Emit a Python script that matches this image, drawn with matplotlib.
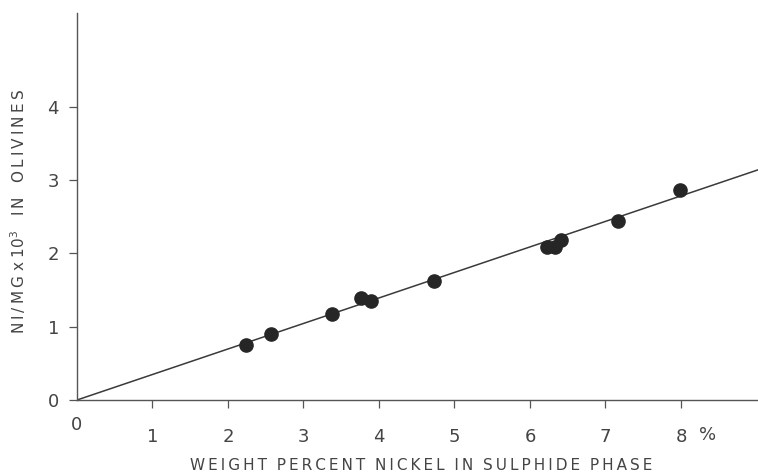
import matplotlib
matplotlib.use("Agg")
import matplotlib.pyplot as plt

# nickel in sulphide (wt %) vs Ni/Mg x 10^3 in olivine
ni_sulphide = [2.24, 2.57, 3.38, 3.76, 3.89, 4.73, 6.22, 6.33, 6.41, 7.17, 7.99]
ni_mg_olivine = [0.75, 0.90, 1.17, 1.39, 1.35, 1.63, 2.09, 2.09, 2.18, 2.44, 2.86]

# fitted line through origin
fit_x = [0, 9.02]
fit_y = [0, 3.14]

x_ticks = [1, 2, 3, 4, 5, 6, 7, 8]
y_ticks = [0, 1, 2, 3, 4]

x_title = ["WEIGHT", "PERCENT", "NICKEL", "IN", "SULPHIDE", "PHASE"]

ink = "#3a3a3a"
plt.rcParams['font.family'] = ['DejaVu Sans']


def spaced(words, gap="  "):
    # wide lettering like the stencilled original
    return gap.join("\u2009".join(w) for w in words)


fig = plt.figure(figsize=(7.58, 4.76), dpi=100)
ax = fig.add_axes([77/758, 76/476, 681/758, 387/476])

ax.plot(fit_x, fit_y, color=ink, lw=1.1, zorder=2)
ax.plot(ni_sulphide, ni_mg_olivine, 'o', color="#262626", ms=9.5, zorder=3)

ax.set_xlim(0, 9.02)
ax.set_ylim(0, 5.28)
ax.spines['top'].set_visible(False)
ax.spines['right'].set_visible(False)
for s in ['left', 'bottom']:
    ax.spines[s].set_color("#555555")
    ax.spines[s].set_linewidth(1.0)

ax.set_xticks(x_ticks)
ax.set_yticks(y_ticks)
ax.tick_params(axis='both', colors="#555555", labelcolor="#444444",
               labelsize=13, length=6, width=0.9)
ax.tick_params(axis='x', pad=14)
ax.tick_params(axis='y', pad=7)

ax.text(0, -0.34, "0", ha='center', va='center', fontsize=13, color="#444444")
ax.text(8.35, -0.48, "%", ha='center', va='center', fontsize=13, color="#444444")

fig.text(421/758, 1 - 466/476, spaced(x_title),
         ha='center', va='center', fontsize=11, color="#444444")
fig.text(18/758, 1 - 212/476,
         spaced(["NI/MG"]) + " x 10$^3$   " + spaced(["IN", "OLIVINES"], "   "),
         rotation=90, ha='center', va='center', fontsize=11, color="#444444")

fig.savefig("out.png", dpi=100)
